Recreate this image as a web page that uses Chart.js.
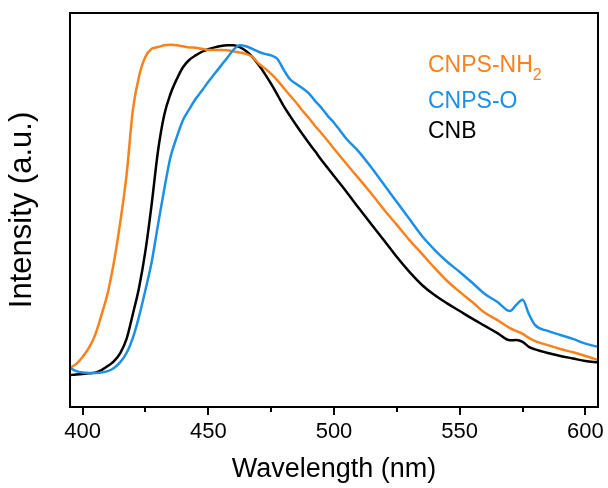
<!DOCTYPE html>
<html>
<head>
<meta charset="utf-8">
<script src="https://cdn.jsdelivr.net/npm/chart.js@4/dist/chart.umd.min.js"></script>
<style>
  html, body { margin: 0; padding: 0; background: #fff; }
  #wrap { width: 608px; height: 488px; }
</style>
</head>
<body>
<div id="wrap"><canvas id="chart"></canvas></div>
<script>
// emission wavelength (nm)
const wavelengths = [
  395, 397.5, 400, 402.5, 405, 407.5, 410, 412.5, 415, 417.5,
  420, 422.5, 425, 427.5, 430, 432.5, 435, 437.5, 440, 442.5,
  445, 447.5, 450, 452.5, 455, 457.5, 460, 462.5, 465, 467.5,
  470, 472.5, 475, 477.5, 480, 482.5, 485, 487.5, 490, 492.5,
  495, 497.5, 500, 505, 510, 515, 520, 525, 530, 535,
  540, 545, 550, 555, 560, 565, 570, 572.5, 575, 577.5,
  580, 585, 590, 595, 600, 605
];

// normalised PL intensity
const cnpsNH2 = [
  0.108, 0.119, 0.138, 0.163, 0.199, 0.254, 0.315, 0.401, 0.511, 0.641,
  0.820, 0.914, 0.967, 0.989, 0.994, 0.999, 1.000, 0.999, 0.996, 0.993,
  0.992, 0.989, 0.986, 0.986, 0.986, 0.985, 0.982, 0.979, 0.975, 0.967,
  0.949, 0.935, 0.920, 0.902, 0.881, 0.860, 0.840, 0.818, 0.798, 0.776,
  0.756, 0.735, 0.713, 0.671, 0.630, 0.588, 0.544, 0.503, 0.461, 0.423,
  0.384, 0.348, 0.318, 0.290, 0.260, 0.240, 0.218, 0.210, 0.202, 0.191,
  0.182, 0.171, 0.160, 0.151, 0.141, 0.130
];
const cnpsO = [
  0.108, 0.099, 0.095, 0.094, 0.094, 0.095, 0.099, 0.108, 0.124, 0.149,
  0.191, 0.251, 0.323, 0.401, 0.503, 0.602, 0.691, 0.746, 0.793, 0.823,
  0.851, 0.874, 0.898, 0.920, 0.942, 0.964, 0.986, 0.999, 0.996, 0.989,
  0.981, 0.975, 0.971, 0.961, 0.931, 0.905, 0.892, 0.880, 0.866, 0.845,
  0.826, 0.804, 0.785, 0.740, 0.704, 0.660, 0.613, 0.566, 0.519, 0.472,
  0.434, 0.401, 0.373, 0.343, 0.312, 0.290, 0.265, 0.282, 0.296, 0.257,
  0.226, 0.210, 0.199, 0.188, 0.175, 0.166
];
const cnb = [
  0.088, 0.090, 0.091, 0.093, 0.095, 0.102, 0.113, 0.127, 0.149, 0.188,
  0.257, 0.331, 0.431, 0.561, 0.707, 0.807, 0.865, 0.906, 0.939, 0.959,
  0.971, 0.981, 0.988, 0.993, 0.997, 0.999, 0.999, 0.994, 0.983, 0.967,
  0.945, 0.920, 0.892, 0.862, 0.831, 0.804, 0.778, 0.753, 0.729, 0.706,
  0.682, 0.660, 0.638, 0.594, 0.548, 0.503, 0.459, 0.414, 0.373, 0.337,
  0.309, 0.286, 0.265, 0.244, 0.224, 0.204, 0.184, 0.185, 0.180, 0.166,
  0.159, 0.149, 0.141, 0.134, 0.127, 0.123
];

const seriesNames = ['CNPS-NH2', 'CNPS-O', 'CNB'];
const seriesColors = ['#F7821E', '#1C90E6', '#000000'];
const majorTicks = [400, 450, 500, 550, 600];
const minorTicks = [425, 475, 525, 575];

const FONT = "'Liberation Sans', Arial, sans-serif";

const toPoints = values => wavelengths.map((w, i) => ({ x: w, y: values[i] }));

// box around the plot, outward tick marks and the coloured text legend
const framePlugin = {
  id: 'frame',
  afterDatasetsDraw(chart) {
    const { ctx, chartArea: a, scales: { x } } = chart;
    ctx.save();
    ctx.strokeStyle = '#000';
    ctx.lineWidth = 2;
    ctx.strokeRect(a.left, a.top, a.right - a.left, a.bottom - a.top);
    ctx.beginPath();
    majorTicks.forEach(v => {
      const px = Math.round(x.getPixelForValue(v));
      ctx.moveTo(px, a.bottom);
      ctx.lineTo(px, a.bottom + 8);
    });
    minorTicks.forEach(v => {
      const px = Math.round(x.getPixelForValue(v));
      ctx.moveTo(px, a.bottom);
      ctx.lineTo(px, a.bottom + 5);
    });
    ctx.stroke();

    // legend
    const baselines = [59, 95, 125];
    ctx.textBaseline = 'alphabetic';
    ctx.textAlign = 'left';
    chart.data.datasets.forEach((ds, i) => {
      const lx = a.left + 358;
      const ly = a.top + baselines[i];
      const m = ds.label.match(/^(.*?)(\d+)$/);
      const main = m ? m[1] : ds.label;
      ctx.fillStyle = ds.borderColor;
      ctx.font = '23px ' + FONT;
      ctx.fillText(main, lx, ly);
      if (m) {
        const w = ctx.measureText(main).width;
        ctx.font = '16px ' + FONT;
        ctx.fillText(m[2], lx + w, ly + 8);
      }
    });
    ctx.restore();
  }
};

new Chart(document.getElementById('chart'), {
  type: 'line',
  data: {
    datasets: [
      { label: seriesNames[0], data: toPoints(cnpsNH2), borderColor: seriesColors[0], order: 1 },
      { label: seriesNames[1], data: toPoints(cnpsO), borderColor: seriesColors[1], order: 0 },
      { label: seriesNames[2], data: toPoints(cnb), borderColor: seriesColors[2], order: 2 }
    ]
  },
  options: {
    responsive: true,
    maintainAspectRatio: false,
    animation: false,
    datasets: {
      line: {
        borderWidth: 2.5,
        pointRadius: 0,
        fill: false,
        cubicInterpolationMode: 'monotone'
      }
    },
    layout: { padding: { top: 13, right: 10, left: 0, bottom: 0 } },
    plugins: {
      legend: { display: false },
      tooltip: { enabled: false }
    },
    scales: {
      x: {
        type: 'linear',
        min: 395,
        max: 605,
        afterBuildTicks: scale => {
          scale.ticks = majorTicks.map(v => ({ value: v }));
        },
        afterFit: scale => {
          scale.height = 81;
          scale.paddingLeft = 0;
          scale.paddingRight = 0;
        },
        grid: { display: false, drawTicks: false },
        border: { display: false },
        ticks: {
          color: '#000',
          padding: 12,
          maxRotation: 0,
          font: { family: FONT, size: 22 },
          callback: v => String(v)
        },
        title: {
          display: true,
          text: 'Wavelength (nm)',
          color: '#000',
          font: { family: FONT, size: 27 },
          padding: { top: 0, bottom: 2 }
        }
      },
      y: {
        min: 0,
        max: 1.088,
        afterFit: scale => {
          scale.width = 70;
          scale.paddingTop = 0;
          scale.paddingBottom = 0;
        },
        grid: { display: false, drawTicks: false },
        border: { display: false },
        ticks: { display: false },
        title: {
          display: true,
          text: 'Intensity (a.u.)',
          color: '#000',
          font: { family: FONT, size: 31 },
          padding: { top: 4, bottom: 0 }
        }
      }
    }
  },
  plugins: [framePlugin]
});
</script>
</body>
</html>
